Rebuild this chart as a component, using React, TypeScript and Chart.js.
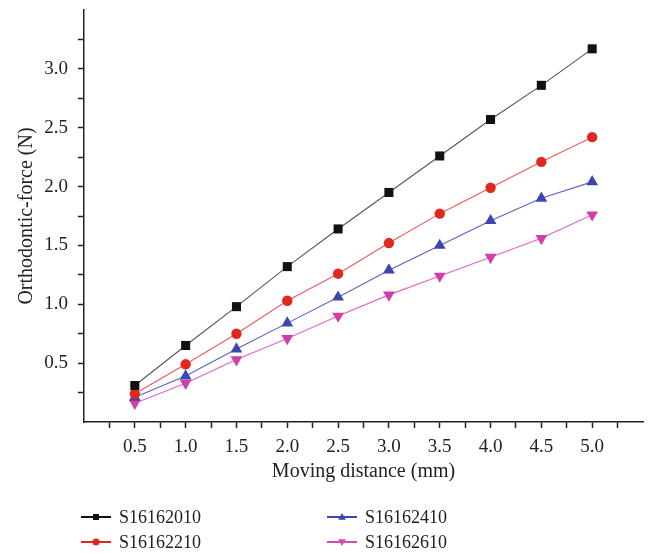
import React, { useEffect, useRef } from "react";
import { Chart, registerables } from "chart.js";

Chart.register(...registerables);

const distances = [0.5, 1.0, 1.5, 2.0, 2.5, 3.0, 3.5, 4.0, 4.5, 5.0];
const s16162010 = [0.31, 0.65, 0.98, 1.32, 1.64, 1.95, 2.26, 2.57, 2.86, 3.17];
const s16162210 = [0.24, 0.49, 0.75, 1.03, 1.26, 1.52, 1.77, 1.99, 2.21, 2.42];
const s16162410 = [0.21, 0.39, 0.62, 0.84, 1.06, 1.29, 1.5, 1.71, 1.9, 2.04];
const s16162610 = [0.16, 0.33, 0.53, 0.71, 0.9, 1.08, 1.24, 1.4, 1.56, 1.76];
const seriesNames = ["S16162010", "S16162210", "S16162410", "S16162610"];

const FONT = "'Liberation Serif', 'Times New Roman', serif";

const styles = [
  { line: "#555555", fill: "#111111", legend: "#111111", shape: "rect", radius: 6.4, rot: 0 },
  { line: "#f05a5a", fill: "#e0281e", legend: "#e0281e", shape: "circle", radius: 5.2, rot: 0 },
  { line: "#5a62c8", fill: "#3c46b0", legend: "#3c46b0", shape: "triangle", radius: 6.8, rot: 0 },
  { line: "#e066c8", fill: "#d23ea8", legend: "#d04cb8", shape: "triangle", radius: 6.8, rot: 180 },
];

function drawMarker(ctx: CanvasRenderingContext2D, shape: string, x: number, y: number, r: number, rot: number) {
  ctx.beginPath();
  if (shape === "rect") {
    ctx.rect(x - r, y - r, 2 * r, 2 * r);
  } else if (shape === "circle") {
    ctx.arc(x, y, r, 0, Math.PI * 2);
  } else {
    const dir = rot === 180 ? 1 : -1;
    ctx.moveTo(x, y + dir * r);
    ctx.lineTo(x - r * 0.95, y - dir * r * 0.7);
    ctx.lineTo(x + r * 0.95, y - dir * r * 0.7);
    ctx.closePath();
  }
  ctx.fill();
}

const legendPlugin = {
  id: "customLegend",
  afterDraw(chart: any) {
    const ctx = chart.ctx as CanvasRenderingContext2D;
    const area = chart.chartArea;
    ctx.save();
    chart.data.datasets.forEach((ds: any, i: number) => {
      const col = i < 2 ? 0 : 1;
      const row = i % 2;
      const x0 = area.left - 3 + col * 246;
      const y = area.bottom + 95 + row * 25;
      const st = styles[i];
      ctx.strokeStyle = st.legend;
      ctx.lineWidth = 2;
      ctx.beginPath();
      ctx.moveTo(x0, y);
      ctx.lineTo(x0 + 30, y);
      ctx.stroke();
      ctx.fillStyle = st.legend;
      const r = st.shape === "rect" ? 3 : st.shape === "circle" ? 3.5 : 4;
      drawMarker(ctx, st.shape, x0 + 15, y, r, st.rot);
      ctx.fillStyle = "#222";
      ctx.font = `18px ${FONT}`;
      ctx.textBaseline = "middle";
      ctx.textAlign = "left";
      ctx.fillText(ds.label, x0 + 38, y + 1);
    });
    ctx.restore();
  },
};

export default function App() {
  const ref = useRef<HTMLCanvasElement | null>(null);
  useEffect(() => {
    if (!ref.current) return;
    const all = [s16162010, s16162210, s16162410, s16162610];
    const datasets = all.map((vals, i) => ({
      label: seriesNames[i],
      data: distances.map((d, j) => ({ x: d, y: vals[j] })),
      borderColor: styles[i].line,
      borderWidth: 1.1,
      backgroundColor: styles[i].fill,
      pointBackgroundColor: styles[i].fill,
      pointBorderColor: styles[i].fill,
      pointBorderWidth: 0,
      pointStyle: styles[i].shape,
      pointRotation: styles[i].rot,
      pointRadius: styles[i].radius,
      showLine: true,
      fill: false,
      tension: 0,
    }));
    const tickCb = (v: any) => {
      const n = Number(v);
      return Math.abs(n * 2 - Math.round(n * 2)) < 1e-6 ? n.toFixed(1) : "";
    };
    const chart = new Chart(ref.current, {
      type: "line",
      data: { datasets },
      plugins: [legendPlugin],
      options: {
        animation: false,
        responsive: true,
        maintainAspectRatio: false,
        layout: { padding: { top: 10, right: 12, left: 0, bottom: 0 } },
        plugins: { legend: { display: false }, tooltip: { enabled: false } },
        scales: {
          x: {
            type: "linear",
            min: 0,
            max: 5.5,
            afterFit: (s: any) => { s.height = 132; s.paddingLeft = 0; s.paddingRight = 0; },
            afterBuildTicks: (s: any) => {
              s.ticks = s.ticks.filter((t: any) => t.value > 0.01 && t.value < 5.49);
            },
            ticks: {
              stepSize: 0.25,
              autoSkip: false,
              maxRotation: 0,
              padding: 8,
              color: "#222",
              font: { family: FONT, size: 19 },
              callback: tickCb,
            },
            grid: { drawOnChartArea: false, drawTicks: true, tickLength: 6, tickColor: "#222", tickWidth: 1.5 },
            border: { display: true, color: "#222", width: 1.5 },
            title: {
              display: true,
              text: "Moving distance (mm)",
              color: "#222",
              font: { family: FONT, size: 20 },
              padding: { top: 0, bottom: 70 },
            },
          },
          y: {
            type: "linear",
            min: 0,
            max: 3.5,
            afterFit: (s: any) => { s.width = 84; s.paddingTop = 0; s.paddingBottom = 0; },
            afterBuildTicks: (s: any) => {
              s.ticks = s.ticks.filter((t: any) => t.value > 0.01 && t.value < 3.49);
            },
            ticks: {
              stepSize: 0.25,
              autoSkip: false,
              padding: 10,
              color: "#222",
              font: { family: FONT, size: 19 },
              callback: tickCb,
            },
            grid: { drawOnChartArea: false, drawTicks: true, tickLength: 6, tickColor: "#222", tickWidth: 1.5 },
            border: { display: true, color: "#222", width: 1.5 },
            title: {
              display: true,
              text: "Orthodontic-force (N)",
              color: "#222",
              font: { family: FONT, size: 20 },
              padding: { top: 15, bottom: 0 },
            },
          },
        },
      },
    } as any);
    return () => chart.destroy();
  }, []);
  return (
    <div style={{ position: "absolute", left: 0, top: 0, width: 655, height: 554 }}>
      <canvas ref={ref} />
    </div>
  );
}
